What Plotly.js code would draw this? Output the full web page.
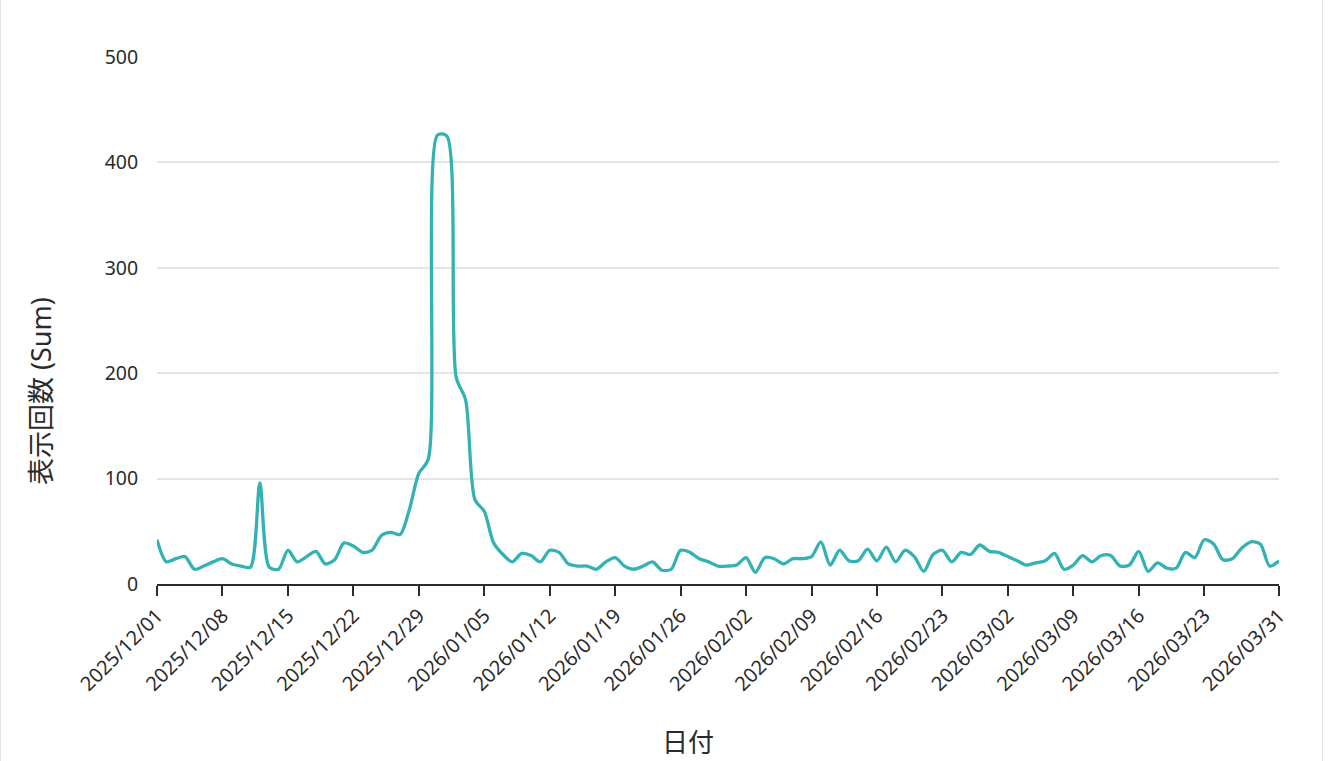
<!DOCTYPE html>
<html>
<head>
<meta charset="utf-8">
<script src="https://cdn.plot.ly/plotly-3.0.1.min.js"></script>
<style>
  html, body { margin: 0; padding: 0; background: #fff; overflow: hidden; }
  #wrap { position: absolute; left: 0; top: 0; width: 1321px; height: 761px;
          border-left: 1px solid #e3e3e3; border-right: 1px solid #e3e3e3; }
  #chart { width: 1321px; height: 761px; }
</style>
</head>
<body>
<div id="wrap"><div id="chart"></div></div>
<script>
// Daily impressions, 2025-12-01 .. 2026-03-31
const START_DATE = '2025-12-01';
const impressions = [
  42, 21, 24, 26, 14, 17, 21, 24, 19, 17,
  16, 96, 16, 14, 32, 21, 26, 31, 19, 23,
  39, 36, 30, 32, 46, 49, 47, 71, 105, 118,
  426, 425, 196, 175, 80, 69, 39, 28, 21, 29,
  27, 21, 32, 30, 19, 17, 17, 14, 21, 25,
  17, 14, 17, 21, 13, 14, 32, 30, 24, 21,
  17, 17, 18, 25, 11, 25, 24, 19, 24, 24,
  26, 40, 18, 32, 22, 22, 33, 22, 35, 21,
  32, 26, 12, 28, 32, 21, 30, 28, 37, 31,
  30, 26, 22, 18, 20, 22, 29, 14, 18, 27,
  21, 27, 27, 17, 18, 31, 12, 20, 15, 15,
  30, 25, 42, 38, 23, 24, 34, 40, 38, 17,
  22
];
const xTickLabels = [
  '2025/12/01', '2025/12/08', '2025/12/15', '2025/12/22', '2025/12/29',
  '2026/01/05', '2026/01/12', '2026/01/19', '2026/01/26', '2026/02/02',
  '2026/02/09', '2026/02/16', '2026/02/23', '2026/03/02', '2026/03/09',
  '2026/03/16', '2026/03/23', '2026/03/31'
];
const yTickVals = [0, 100, 200, 300, 400, 500];
const xTitle = '日付';
const yTitle = '表示回数 (Sum)';

// build the daily date axis
const dates = [];
const d0 = new Date(START_DATE + 'T00:00:00Z');
for (let i = 0; i < impressions.length; i++) {
  const d = new Date(d0.getTime() + i * 86400000);
  dates.push(d.toISOString().slice(0, 10));
}
const xTickVals = xTickLabels.map(s => s.replace(/\//g, '-'));

const FONT = '"Noto Sans", "Noto Sans CJK JP", "Open Sans", sans-serif';
const TXT = '#2b2b2b';

const trace = {
  x: dates,
  y: impressions,
  type: 'scatter',
  mode: 'lines',
  line: { color: '#33b2b4', width: 3.3, shape: 'spline', smoothing: 0.8 },
  hoverinfo: 'x+y'
};

const layout = {
  width: 1321,
  height: 761,
  margin: { l: 156, r: 43, t: 57, b: 177, pad: 0 },
  paper_bgcolor: '#ffffff',
  plot_bgcolor: '#ffffff',
  font: { family: FONT, color: TXT, size: 20 },
  showlegend: false,
  xaxis: {
    type: 'date',
    range: [dates[0], dates[dates.length - 1]],
    tickmode: 'array',
    tickvals: xTickVals,
    ticktext: xTickLabels,
    tickangle: -45,
    ticks: 'outside',
    ticklen: 10,
    tickwidth: 2,
    tickcolor: TXT,
    showline: true,
    linecolor: TXT,
    linewidth: 2,
    showgrid: false,
    zeroline: false,
    automargin: false,
    tickfont: { family: FONT, size: 20, color: TXT }
  },
  yaxis: {
    range: [0, 500],
    tickvals: yTickVals,
    ticks: 'outside',
    ticklen: 14,
    tickcolor: 'rgba(0,0,0,0)',
    showline: false,
    showgrid: true,
    gridcolor: '#e4e4e4',
    gridwidth: 1.5,
    zeroline: false,
    automargin: false,
    tickfont: { family: FONT, size: 19.5, color: TXT }
  },
  annotations: [
    { text: xTitle, xref: 'paper', yref: 'paper', x: 0.473, y: -0.3,
      xanchor: 'center', yanchor: 'middle', showarrow: false,
      font: { family: FONT, size: 26, color: TXT } },
    { text: yTitle, xref: 'paper', yref: 'paper', x: -0.1043, y: 0.366,
      xanchor: 'center', yanchor: 'middle', showarrow: false, textangle: -90,
      font: { family: FONT, size: 27, color: TXT } }
  ]
};

Plotly.newPlot('chart', [trace], layout, { displayModeBar: false });
</script>
</body>
</html>
